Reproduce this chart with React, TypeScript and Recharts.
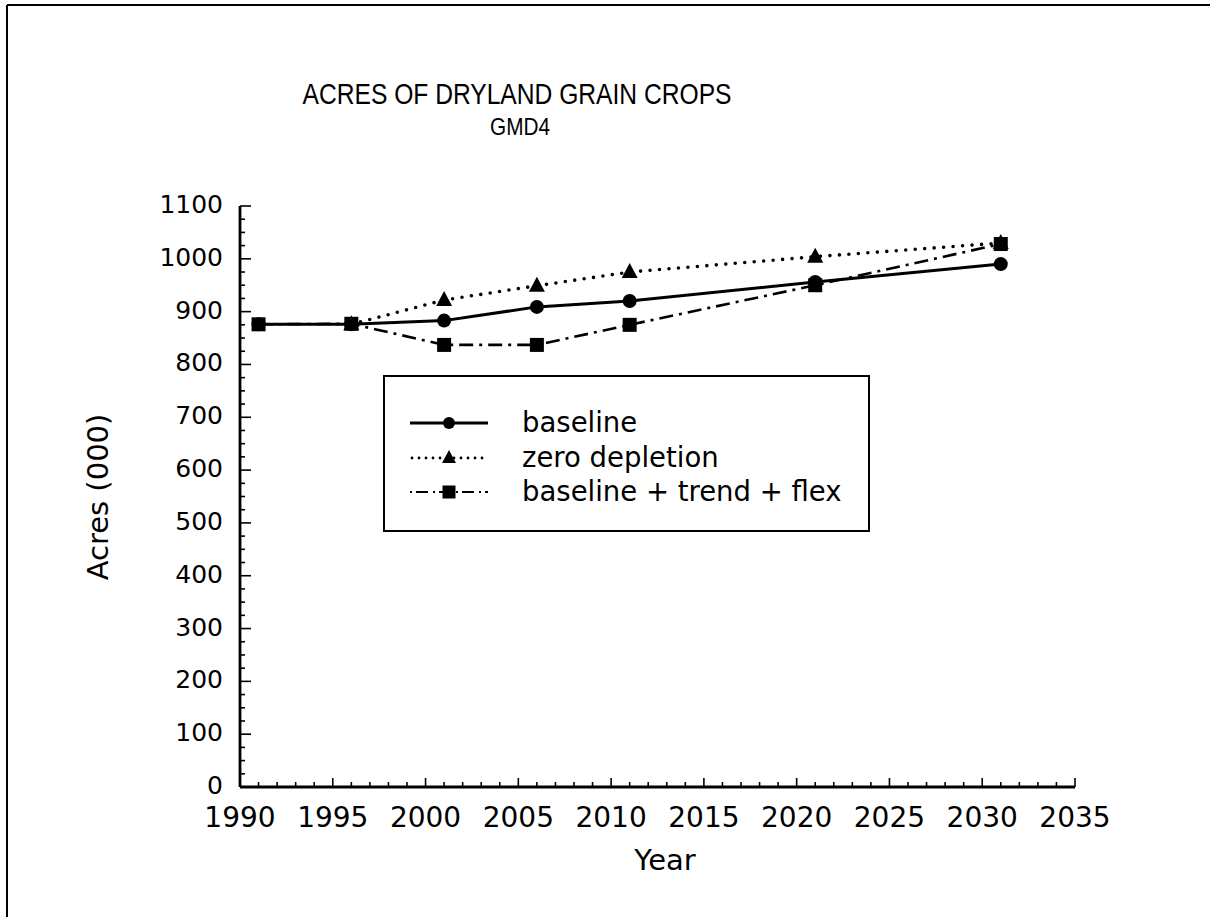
import React from "react";
import { LineChart, Line, XAxis, YAxis, Legend } from "recharts";

// values (acres, thousands)
const years = [1991, 1996, 2001, 2006, 2011, 2021, 2031];
const baseline = [876, 876, 883, 909, 920, 956, 990];
const zeroDepletion = [null, 876, 922, 949, 975, 1004, 1030];
const trendFlex = [876, 877, 837, 837, 875, 950, 1028];

const xMajorTicks = [1990, 1995, 2000, 2005, 2010, 2015, 2020, 2025, 2030, 2035];
const yMajorTicks = [0, 100, 200, 300, 400, 500, 600, 700, 800, 900, 1000, 1100];

const seriesNames = ["baseline", "zero depletion", "baseline + trend + flex"];

const FONT = "'DejaVu Sans', 'Liberation Sans', sans-serif";
const TITLE_FONT = "'Liberation Sans Narrow', 'Liberation Sans', sans-serif";

const DOTTED = "0 9.5";
const DASHDOT = "14 6 3 6";

// minor ticks: every year on x, every 25 on y
const xTicks: number[] = [];
for (let v = xMajorTicks[0]; v <= xMajorTicks[xMajorTicks.length - 1]; v += 1) xTicks.push(v);
const yTicks: number[] = [];
for (let v = yMajorTicks[0]; v <= yMajorTicks[yMajorTicks.length - 1]; v += 25) yTicks.push(v);

const rows = years.map((year, i) => ({
  year,
  baseline: baseline[i],
  zero: zeroDepletion[i],
  flex: trendFlex[i],
}));

function XTick(props: any) {
  const { x, y, payload } = props;
  const v = payload.value as number;
  const major = v % 5 === 0;
  return (
    <g>
      <line x1={x} x2={x} y1={y} y2={y - (major ? 9 : 5)} stroke="#000" strokeWidth={1.6} />
      {major && (
        <text x={x} y={y + 40} textAnchor="middle" fontSize={28} fontFamily={FONT} fill="#000">
          {v}
        </text>
      )}
    </g>
  );
}

function YTick(props: any) {
  const { x, y, payload } = props;
  const v = payload.value as number;
  const major = v % 100 === 0;
  return (
    <g>
      <line x1={x} x2={x + (major ? 11 : 5)} y1={y} y2={y} stroke="#000" strokeWidth={1.6} />
      {major && (
        <text x={x - 17} y={y + 7} textAnchor="end" fontSize={25} fontFamily={FONT} fill="#000">
          {v}
        </text>
      )}
    </g>
  );
}

function CircleDot(props: any) {
  const { cx, cy } = props;
  if (cx == null || cy == null) return <g />;
  return <circle cx={cx} cy={cy} r={7} fill="#000" />;
}

function TriangleDot(props: any) {
  const { cx, cy } = props;
  if (cx == null || cy == null) return <g />;
  return <polygon points={`${cx},${cy - 9} ${cx - 8},${cy + 6} ${cx + 8},${cy + 6}`} fill="#000" />;
}

function SquareDot(props: any) {
  const { cx, cy } = props;
  if (cx == null || cy == null) return <g />;
  return <rect x={cx - 7} y={cy - 7} width={14} height={14} fill="#000" />;
}

function LegendBox() {
  const rowsY = [48, 83, 117];
  const x1 = 27;
  const x2 = 105;
  const mid = 66;
  return (
    <svg width={487} height={157} style={{ display: "block" }}>
      <rect x={1} y={1} width={485} height={155} fill="#fff" stroke="#000" strokeWidth={2} />
      <line x1={x1} x2={x2} y1={rowsY[0]} y2={rowsY[0]} stroke="#000" strokeWidth={2.8} />
      <circle cx={mid} cy={rowsY[0]} r={6} fill="#000" />
      <line
        x1={x1 + 2}
        x2={x2}
        y1={rowsY[1]}
        y2={rowsY[1]}
        stroke="#000"
        strokeWidth={2.8}
        strokeDasharray="0 7"
        strokeLinecap="round"
      />
      <polygon
        points={`${mid},${rowsY[1] - 8} ${mid - 7},${rowsY[1] + 5} ${mid + 7},${rowsY[1] + 5}`}
        fill="#000"
      />
      <line
        x1={x1}
        x2={x2}
        y1={rowsY[2]}
        y2={rowsY[2]}
        stroke="#000"
        strokeWidth={2.2}
        strokeDasharray="2 4 12 5"
      />
      <rect x={mid - 6.5} y={rowsY[2] - 6.5} width={13} height={13} fill="#000" />
      {seriesNames.map((name, i) => (
        <text key={name} x={139} y={rowsY[i] + 9} fontSize={27.5} fontFamily={FONT} fill="#000">
          {name}
        </text>
      ))}
    </svg>
  );
}

export default function App() {
  return (
    <div style={{ position: "absolute", left: 0, top: 0, width: 1210, height: 917, background: "#fff" }}>
      <svg width={1210} height={917} style={{ position: "absolute", left: 0, top: 0 }}>
        <line x1={7} x2={1210} y1={5} y2={5} stroke="#000" strokeWidth={2} />
        <line x1={7} x2={7} y1={5} y2={917} stroke="#000" strokeWidth={2} />
        <text
          x={517}
          y={104}
          textAnchor="middle"
          fontSize={30}
          fontFamily={TITLE_FONT}
          textLength={429}
          lengthAdjust="spacingAndGlyphs"
          fill="#000"
        >
          ACRES OF DRYLAND GRAIN CROPS
        </text>
        <text
          x={520}
          y={135}
          textAnchor="middle"
          fontSize={24}
          fontFamily={TITLE_FONT}
          textLength={60}
          lengthAdjust="spacingAndGlyphs"
          fill="#000"
        >
          GMD4
        </text>
        <text x={665} y={870} textAnchor="middle" fontSize={29} fontFamily={FONT} fill="#000">
          Year
        </text>
        <text
          x={0}
          y={0}
          transform="translate(108, 497) rotate(-90)"
          textAnchor="middle"
          fontSize={29}
          fontFamily={FONT}
          fill="#000"
        >
          Acres (000)
        </text>
      </svg>
      <div style={{ position: "absolute", left: 0, top: 0 }}>
        <LineChart
          width={1210}
          height={917}
          data={rows}
          margin={{ top: 206, right: 135, bottom: 0, left: 0 }}
        >
          <XAxis
            type="number"
            dataKey="year"
            domain={[1990, 2035]}
            ticks={xTicks}
            interval={0}
            tickSize={0}
            tickMargin={0}
            tickLine={false}
            tick={<XTick />}
            axisLine={{ stroke: "#000", strokeWidth: 2.8 }}
            height={130}
          />
          <YAxis
            type="number"
            domain={[0, 1100]}
            ticks={yTicks}
            interval={0}
            tickSize={0}
            tickMargin={0}
            tickLine={false}
            tick={<YTick />}
            axisLine={{ stroke: "#000", strokeWidth: 2.8 }}
            width={240}
          />
          <Legend
            layout="vertical"
            align="center"
            verticalAlign="middle"
            content={() => <LegendBox />}
            wrapperStyle={{ position: "absolute", left: 383, top: 375, width: 487, height: 157 }}
          />
          <Line
            dataKey="baseline"
            name={seriesNames[0]}
            stroke="#000"
            strokeWidth={3}
            dot={<CircleDot />}
            isAnimationActive={false}
          />
          <Line
            dataKey="zero"
            name={seriesNames[1]}
            stroke="#000"
            strokeWidth={3.6}
            strokeDasharray={DOTTED}
            strokeLinecap="round"
            dot={<TriangleDot />}
            isAnimationActive={false}
          />
          <Line
            dataKey="flex"
            name={seriesNames[2]}
            stroke="#000"
            strokeWidth={2.6}
            strokeDasharray={DASHDOT}
            dot={<SquareDot />}
            isAnimationActive={false}
          />
        </LineChart>
      </div>
    </div>
  );
}
